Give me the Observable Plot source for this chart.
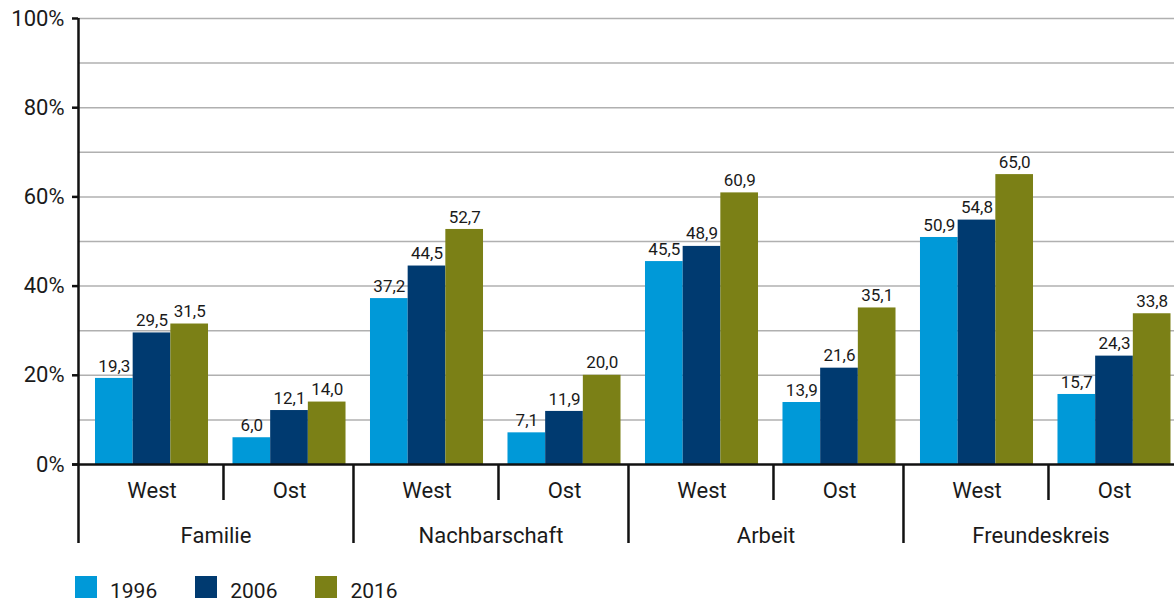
<!DOCTYPE html>
<html><head><meta charset="utf-8">
<script src="https://cdn.jsdelivr.net/npm/d3@7"></script>
<script src="https://cdn.jsdelivr.net/npm/@observablehq/plot@0.6"></script>
<style>
body{margin:0;background:#fff;font-family:Roboto,sans-serif;overflow:hidden}
#legend{display:flex;margin:26px 0 0 75px;font-size:21px;color:#1a1a1a;line-height:22px}
.item{display:flex;align-items:center;margin-right:38px}
.sw{width:22px;height:22px;margin-right:13px}
.item span{position:relative;top:4px}
</style></head><body><div id="chart"></div><div id="legend"></div>
<script>
const categories = ["Familie", "Nachbarschaft", "Arbeit", "Freundeskreis"];
const regions = ["West", "Ost"];
const years = ["1996", "2006", "2016"];
// order: Familie West, Familie Ost, Nachbarschaft West, Nachbarschaft Ost, Arbeit West, Arbeit Ost, Freundeskreis West, Freundeskreis Ost
const values1996 = [19.3, 6.0, 37.2, 7.1, 45.5, 13.9, 50.9, 15.7];
const values2006 = [29.5, 12.1, 44.5, 11.9, 48.9, 21.6, 54.8, 24.3];
const values2016 = [31.5, 14.0, 52.7, 20.0, 60.9, 35.1, 65.0, 33.8];
const colors = ["#0099d8", "#003a70", "#7b8016"];
const yTicks = [0, 20, 40, 60, 80, 100];
const gridTicks = [10, 20, 30, 40, 50, 60, 70, 80, 90, 100];

const series = [values1996, values2006, values2016];
const groups = categories.flatMap(c => regions.map(r => c + "|" + r));
const data = years.flatMap((yr, i) => groups.map((g, j) => ({group: g, year: yr, yi: i, value: series[i][j]})));
const fmt = v => d3.format(".1f")(v).replace(".", ",");

const xOpts = {type: "band", domain: groups, range: [78, 1187.5], paddingInner: 0.178, paddingOuter: 0.1236, round: false};
const xs = Plot.scale({x: xOpts});
const bw = xs.bandwidth;
const w = bw / 3;
const ink = "#1a1a1a";

const chart = Plot.plot({
  width: 1174,
  height: 550,
  marginLeft: 78,
  marginRight: 0,
  marginTop: 18,
  marginBottom: 86,
  style: {fontFamily: "Roboto, sans-serif", fontSize: "22px", color: ink, background: "white", overflow: "visible"},
  x: {...xOpts, label: null},
  y: {domain: [0, 100], label: null},
  marks: [
    Plot.ruleY(gridTicks, {stroke: "#b0b0b0", strokeWidth: 1.5}),
    ...years.map((yr, i) => Plot.barY(data.filter(d => d.yi === i), {
      x: "group", y: "value", fill: colors[i], insetLeft: i * w, insetRight: (2 - i) * w
    })),
    ...years.map((yr, i) => Plot.text(data.filter(d => d.yi === i), {
      x: "group", y: "value", text: d => fmt(d.value), dx: (i - 1) * w, dy: -19,
      lineAnchor: "top", fontSize: 17, fill: ink
    })),
    Plot.ruleY([0], {stroke: "#111", strokeWidth: 2.5, insetLeft: -6}),
    Plot.ruleX([groups[0]], {x: d => d, y1: 100, y2: 0, insetBottom: -79, dx: -(bw / 2 + 17), stroke: "#111", strokeWidth: 2.5}),
    Plot.ruleX(categories.slice(1).map(c => c + "|West"), {x: d => d, y1: 0, y2: 0, insetBottom: -79, dx: -(bw / 2 + 17), stroke: "#111", strokeWidth: 2.5}),
    Plot.ruleX(categories.map(c => c + "|Ost"), {x: d => d, y1: 0, y2: 0, insetBottom: -36, dx: -(bw / 2 + 9.5), stroke: "#111", strokeWidth: 2.5}),
    Plot.axisY({ticks: yTicks, tickFormat: d => d + "%", tickSize: 6, tickPadding: 8, strokeWidth: 2.5, stroke: "#111", fontSize: 22, label: null}),
    Plot.axisX({tickSize: 0, tickPadding: 18, tickFormat: g => g.split("|")[1], fontSize: 22, label: null}),
    Plot.text(categories, {x: c => c + "|West", text: d => d, frameAnchor: "bottom", lineAnchor: "top", dy: 63, dx: 64, fontSize: 22, fill: ink})
  ]
});
document.getElementById("chart").appendChild(chart);

const legend = document.getElementById("legend");
years.forEach((yr, i) => {
  const item = document.createElement("div");
  item.className = "item";
  const sw = document.createElement("div");
  sw.className = "sw";
  sw.style.background = colors[i];
  const t = document.createElement("span");
  t.textContent = yr;
  item.appendChild(sw); item.appendChild(t);
  legend.appendChild(item);
});
</script></body></html>
